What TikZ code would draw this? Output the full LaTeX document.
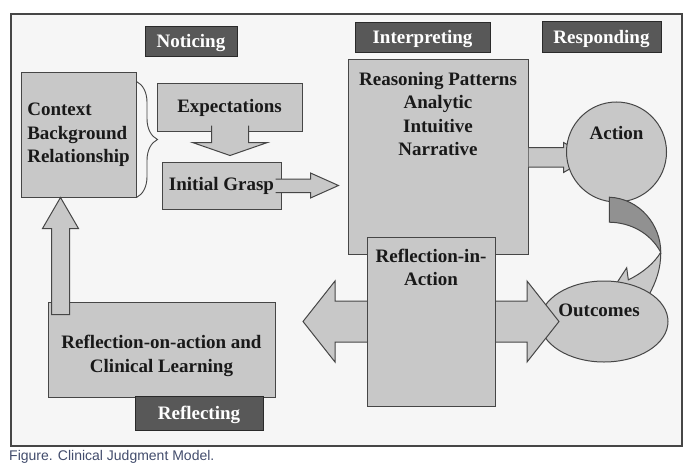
\documentclass[tikz,border=0pt]{standalone}
\usepackage{fontspec}
\setmainfont{Liberation Serif}
\newfontfamily\capfont{Liberation Sans}
\usetikzlibrary{positioning,calc,shapes.geometric,decorations.pathreplacing}
\definecolor{boxgray}{RGB}{200,200,200}
\definecolor{labelgray}{RGB}{88,88,88}
\definecolor{edgegray}{RGB}{70,70,70}
\definecolor{paper}{RGB}{246,246,246}
\definecolor{bandgray}{RGB}{145,145,145}
\definecolor{captionblue}{RGB}{66,76,108}
\definecolor{inkblack}{RGB}{25,25,25}

\begin{document}
\begin{tikzpicture}[x=1pt,y=-1pt,
  %%Estilos
  every node/.style={inner sep=0pt},
  big/.style={font=\fontsize{19}{23.5}\selectfont\bfseries},
  stage/.style={big, fill=labelgray, draw=edgegray!60!black, line width=0.8pt,
    text=white, text depth=0pt},
  box/.style={big, fill=boxgray, draw=edgegray, line width=1pt, text=inkblack, align=center},
  txt/.style={big, text=inkblack, align=center},
  blockarrow/.style={fill=boxgray, draw=edgegray, line width=1pt, line join=miter},
  frame/.style={fill=paper, draw=edgegray, line width=1.2pt}
]
\useasboundingbox (0,0) rectangle (700,468);
\draw[frame] (11,14) rectangle (682,446);

%%Etiquetas
\node[stage, minimum width=92, minimum height=30] (notice) at (191,41) {Noticing};
\node[stage, minimum width=135, minimum height=30] (interp) at (422.5,37) {Interpreting};
\node[stage, minimum width=119, minimum height=31] (respond) at (601.5,36.5) {Responding};

%%Noticing
\node[box, align=left, minimum width=115, minimum height=124] (context) at (78.5,135)
  {Context\\Background\\Relationship};
\draw[edgegray, line width=0.9pt, decorate, decoration={brace, amplitude=21pt}]
  ($(context.north east)+(0,9)$) -- (context.south east);
\node[box, minimum width=145, minimum height=47] (expect) at (229.5,107.5) {Expectations};
\node[box, minimum width=119, minimum height=47] (grasp) at (221.5,185.5) {Initial Grasp};
\path[blockarrow, shift={(expect.south)}]
  (-18,-6) -- (-18,11) -- (-37,11) -- (0.5,24) -- (38,11) -- (19,11) -- (19,-6);
\path[blockarrow, shift={(grasp.east)}]
  (-6,-6.5) -- (29,-6.5) -- (29,-12.5) -- (57,0) -- (29,12.5) -- (29,7) -- (-6,7);

%%Interpreting / Responding
\node[box, minimum width=180, minimum height=194] (reason) at (438,157) {};
\node[txt, anchor=north] (reasontxt) at ($(reason.north)+(0,12.5)$)
  {Reasoning Patterns\\Analytic\\Intuitive\\Narrative};
\path[blockarrow, shift={(reason.east)}]
  (0,-9.5) -- (35,-9.5) -- (35,-14.5) -- (62,0) -- (35,15.5) -- (35,10) -- (0,10);
\node[box, circle, minimum size=100] (action) at (616.5,152) {};
\node[txt, anchor=base] (actiontxt) at ($(action.center)+(0,-12.5)$) {Action};
\begin{scope}[shift={(action.south)}]
  \filldraw[fill=boxgray, draw=edgegray, line width=1pt]
    (44.2,49.7) .. controls (44.5,66) and (39.5,80) .. (31.5,94) -- (15.5,98)
    -- (0.8,79.7) -- (10.2,65.3) -- (11.8,77.3)
    .. controls (25.5,71) and (38.5,60) .. (44.2,49.7) -- cycle;
  \filldraw[fill=bandgray, draw=edgegray, line width=1pt]
    (-7.2,-5.3) .. controls (23.5,-4) and (44.5,23) .. (44.2,49.7)
    .. controls (33.5,30) and (13.5,20) .. (-7.2,19.7) -- cycle;
\end{scope}

%%Reflecting
\node[box, minimum width=227, minimum height=95] (refout) at (161.5,349.5) {};
\node[txt, anchor=north] (refouttxt) at ($(refout.north)+(0,33.5)$)
  {Reflection-on-action and\\Clinical Learning};
\filldraw[blockarrow, shift={(context.south west)}]
  (31,117) -- (31,31) -- (22,31) -- (40,0) -- (58,31) -- (49,31) -- (49,117) -- cycle;
\node[stage, minimum width=128, minimum height=34] (reflecting) at (199,413) {Reflecting};

\node[box, ellipse, minimum width=128, minimum height=81] (outcome) at (604,321.5) {};
\node[txt, anchor=base] (outcometxt) at ($(outcome.center)+(-5,-5)$) {Outcomes};
\node[minimum width=128, minimum height=169] (refin) at (431,321.5) {};
\filldraw[blockarrow, shift={(refin.center)}]
  (-128,0) -- (-96,-40.5) -- (-96,-20.5) -- (96,-20.5) -- (96,-40.5) -- (128,0)
  -- (96,40.5) -- (96,20.5) -- (-96,20.5) -- (-96,40.5) -- cycle;
\node[box, minimum width=128, minimum height=169] at (refin) {};
\node[txt, anchor=north] (refintxt) at ($(refin.north)+(0,12)$) {Reflection-in-\\Action};

\node[anchor=west, font=\capfont\fontsize{14}{16}\selectfont, text=captionblue]
  (caption) at (9,457) {Figure. Clinical Judgment Model.};
\end{tikzpicture}
\end{document}
